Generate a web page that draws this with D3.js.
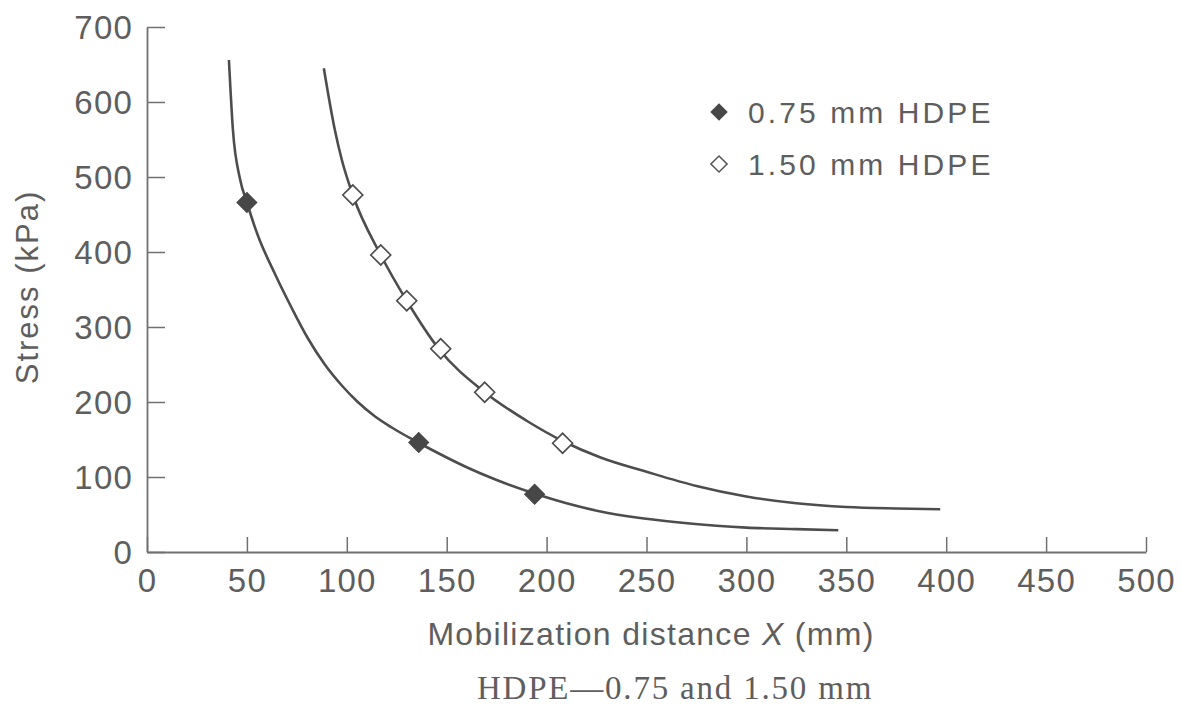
<!DOCTYPE html>
<html>
<head>
<meta charset="utf-8">
<script src="https://cdn.jsdelivr.net/npm/d3@7"></script>
<style>
  html, body { margin: 0; padding: 0; background: #fff; }
  #container { width: 1182px; height: 712px; }
  text { font-family: "Liberation Sans", Arial, sans-serif; fill: #5e5e5e; }
</style>
</head>
<body>
<div id="container"></div>
<script>

// tick values
var xTicks = [0, 50, 100, 150, 200, 250, 300, 350, 400, 450, 500];
var yTicks = [0, 100, 200, 300, 400, 500, 600, 700];

var seriesNames = ["0.75 mm HDPE", "1.50 mm HDPE"];

// measured points [X (mm), stress (kPa)]
var pts075 = [[50, 466], [136, 146], [194, 77]];
var pts150 = [[103, 476], [117, 396], [130, 335], [147, 271], [169, 213], [208, 145]];

// fitted curves
var curve075 = [[41, 656], [43, 563], [46.5, 498], [50, 466], [55.5, 422], [64, 371], [72.5, 325],
	[80.5, 285], [89, 250], [97.5, 222], [105.5, 200], [114, 181], [122.5, 166], [135, 147],
	[150, 126], [160, 113], [175, 96], [194, 78], [210, 65], [227, 54], [245, 46], [264, 40],
	[285, 35], [300, 32.5], [325, 30.5], [346, 29]];
var curve150 = [[88.5, 645], [94, 563], [97.5, 523], [103, 476], [117, 396], [130, 335], [146, 271],
	[169, 213], [190, 175], [208, 148], [227, 126], [250, 107], [275, 88], [300, 74], [325, 65],
	[350, 60], [375, 58], [397, 57]];

function render() {
	var width = 1182, height = 712;
	var svg = d3.select("#container")
		.append("svg")
		.attr("width", width)
		.attr("height", height);

	var x = d3.scaleLinear().domain([0, 500]).range([147, 1146]);
	var y = d3.scaleLinear().domain([0, 700]).range([552, 27]);

	var axisColor = "#707070";

	// x axis, ticks pointing up
	var gx = svg.append("g")
		.attr("transform", "translate(0," + y(0) + ")")
		.call(d3.axisBottom(x).tickValues(xTicks).tickSizeInner(-15).tickSizeOuter(0).tickPadding(17));

	// y axis, ticks pointing right
	var gy = svg.append("g")
		.attr("transform", "translate(" + x(0) + ",0)")
		.call(d3.axisLeft(y).tickValues(yTicks).tickSizeInner(-18).tickSizeOuter(0).tickPadding(14));

	[gx, gy].forEach(function(g) {
		g.select(".domain").attr("stroke", axisColor).attr("stroke-width", 1.8);
		g.selectAll(".tick line").attr("stroke", axisColor).attr("stroke-width", 1.5);
		g.selectAll(".tick text")
			.attr("fill", "#5e5e5e")
			.style("font-family", '"Liberation Sans", Arial, sans-serif')
			.style("font-size", "33px")
			.style("letter-spacing", "1.2px");
	});
	gy.selectAll(".tick text").attr("dy", "0.36em");

	// curves
	var line = d3.line()
		.x(d => x(d[0]))
		.y(d => y(d[1]))
		.curve(d3.curveMonotoneX);

	svg.selectAll(".fit")
		.data([curve075, curve150])
		.enter()
		.append("path")
		.attr("class", "fit")
		.attr("d", line)
		.attr("fill", "none")
		.attr("stroke", "#4d4d4d")
		.attr("stroke-width", 2.6);

	var diamond = d3.symbol().type(d3.symbolSquare).size(200);
	var legDiamond = d3.symbol().type(d3.symbolSquare).size(130);

	svg.selectAll(".m075")
		.data(pts075)
		.enter()
		.append("path")
		.attr("class", "m075")
		.attr("d", diamond)
		.attr("transform", d => "translate(" + x(d[0]) + "," + y(d[1]) + ") rotate(45)")
		.attr("fill", "#474747")
		.attr("stroke", "#474747")
		.attr("stroke-width", 1);

	svg.selectAll(".m150")
		.data(pts150)
		.enter()
		.append("path")
		.attr("class", "m150")
		.attr("d", diamond)
		.attr("transform", d => "translate(" + x(d[0]) + "," + y(d[1]) + ") rotate(45)")
		.attr("fill", "#fff")
		.attr("stroke", "#4d4d4d")
		.attr("stroke-width", 1.6);

	// legend
	var legend = svg.append("g").attr("transform", "translate(719,0)");
	var legRows = legend.selectAll(".leg")
		.data(seriesNames)
		.enter()
		.append("g")
		.attr("class", "leg")
		.attr("transform", (d, i) => "translate(0," + (112 + i * 52) + ")");

	legRows.append("path")
		.attr("d", legDiamond)
		.attr("transform", "rotate(45)")
		.attr("fill", (d, i) => i === 0 ? "#474747" : "#fff")
		.attr("stroke", (d, i) => i === 0 ? "#474747" : "#555")
		.attr("stroke-width", (d, i) => i === 0 ? 1 : 1.5);

	legRows.append("text")
		.attr("x", 29)
		.attr("y", 11)
		.style("font-size", "30px")
		.style("letter-spacing", "3.1px")
		.text(d => d);

	// axis titles
	svg.append("text")
		.attr("transform", "translate(38,287) rotate(-90)")
		.attr("text-anchor", "middle")
		.style("font-size", "31px")
		.style("letter-spacing", "2px")
		.text("Stress (kPa)");

	var xt = svg.append("text")
		.attr("x", 651)
		.attr("y", 645)
		.attr("text-anchor", "middle")
		.style("font-size", "32px")
		.style("letter-spacing", "1.3px");
	xt.append("tspan").text("Mobilization distance ");
	xt.append("tspan").style("font-style", "italic").text("X");
	xt.append("tspan").text(" (mm)");

	svg.append("text")
		.attr("x", 675)
		.attr("y", 699)
		.attr("text-anchor", "middle")
		.style("font-family", '"Liberation Serif", "Times New Roman", serif')
		.style("font-size", "33px")
		.style("letter-spacing", "1.8px")
		.text("HDPE\u20140.75 and 1.50 mm");
}

render();
</script>
</body>
</html>
